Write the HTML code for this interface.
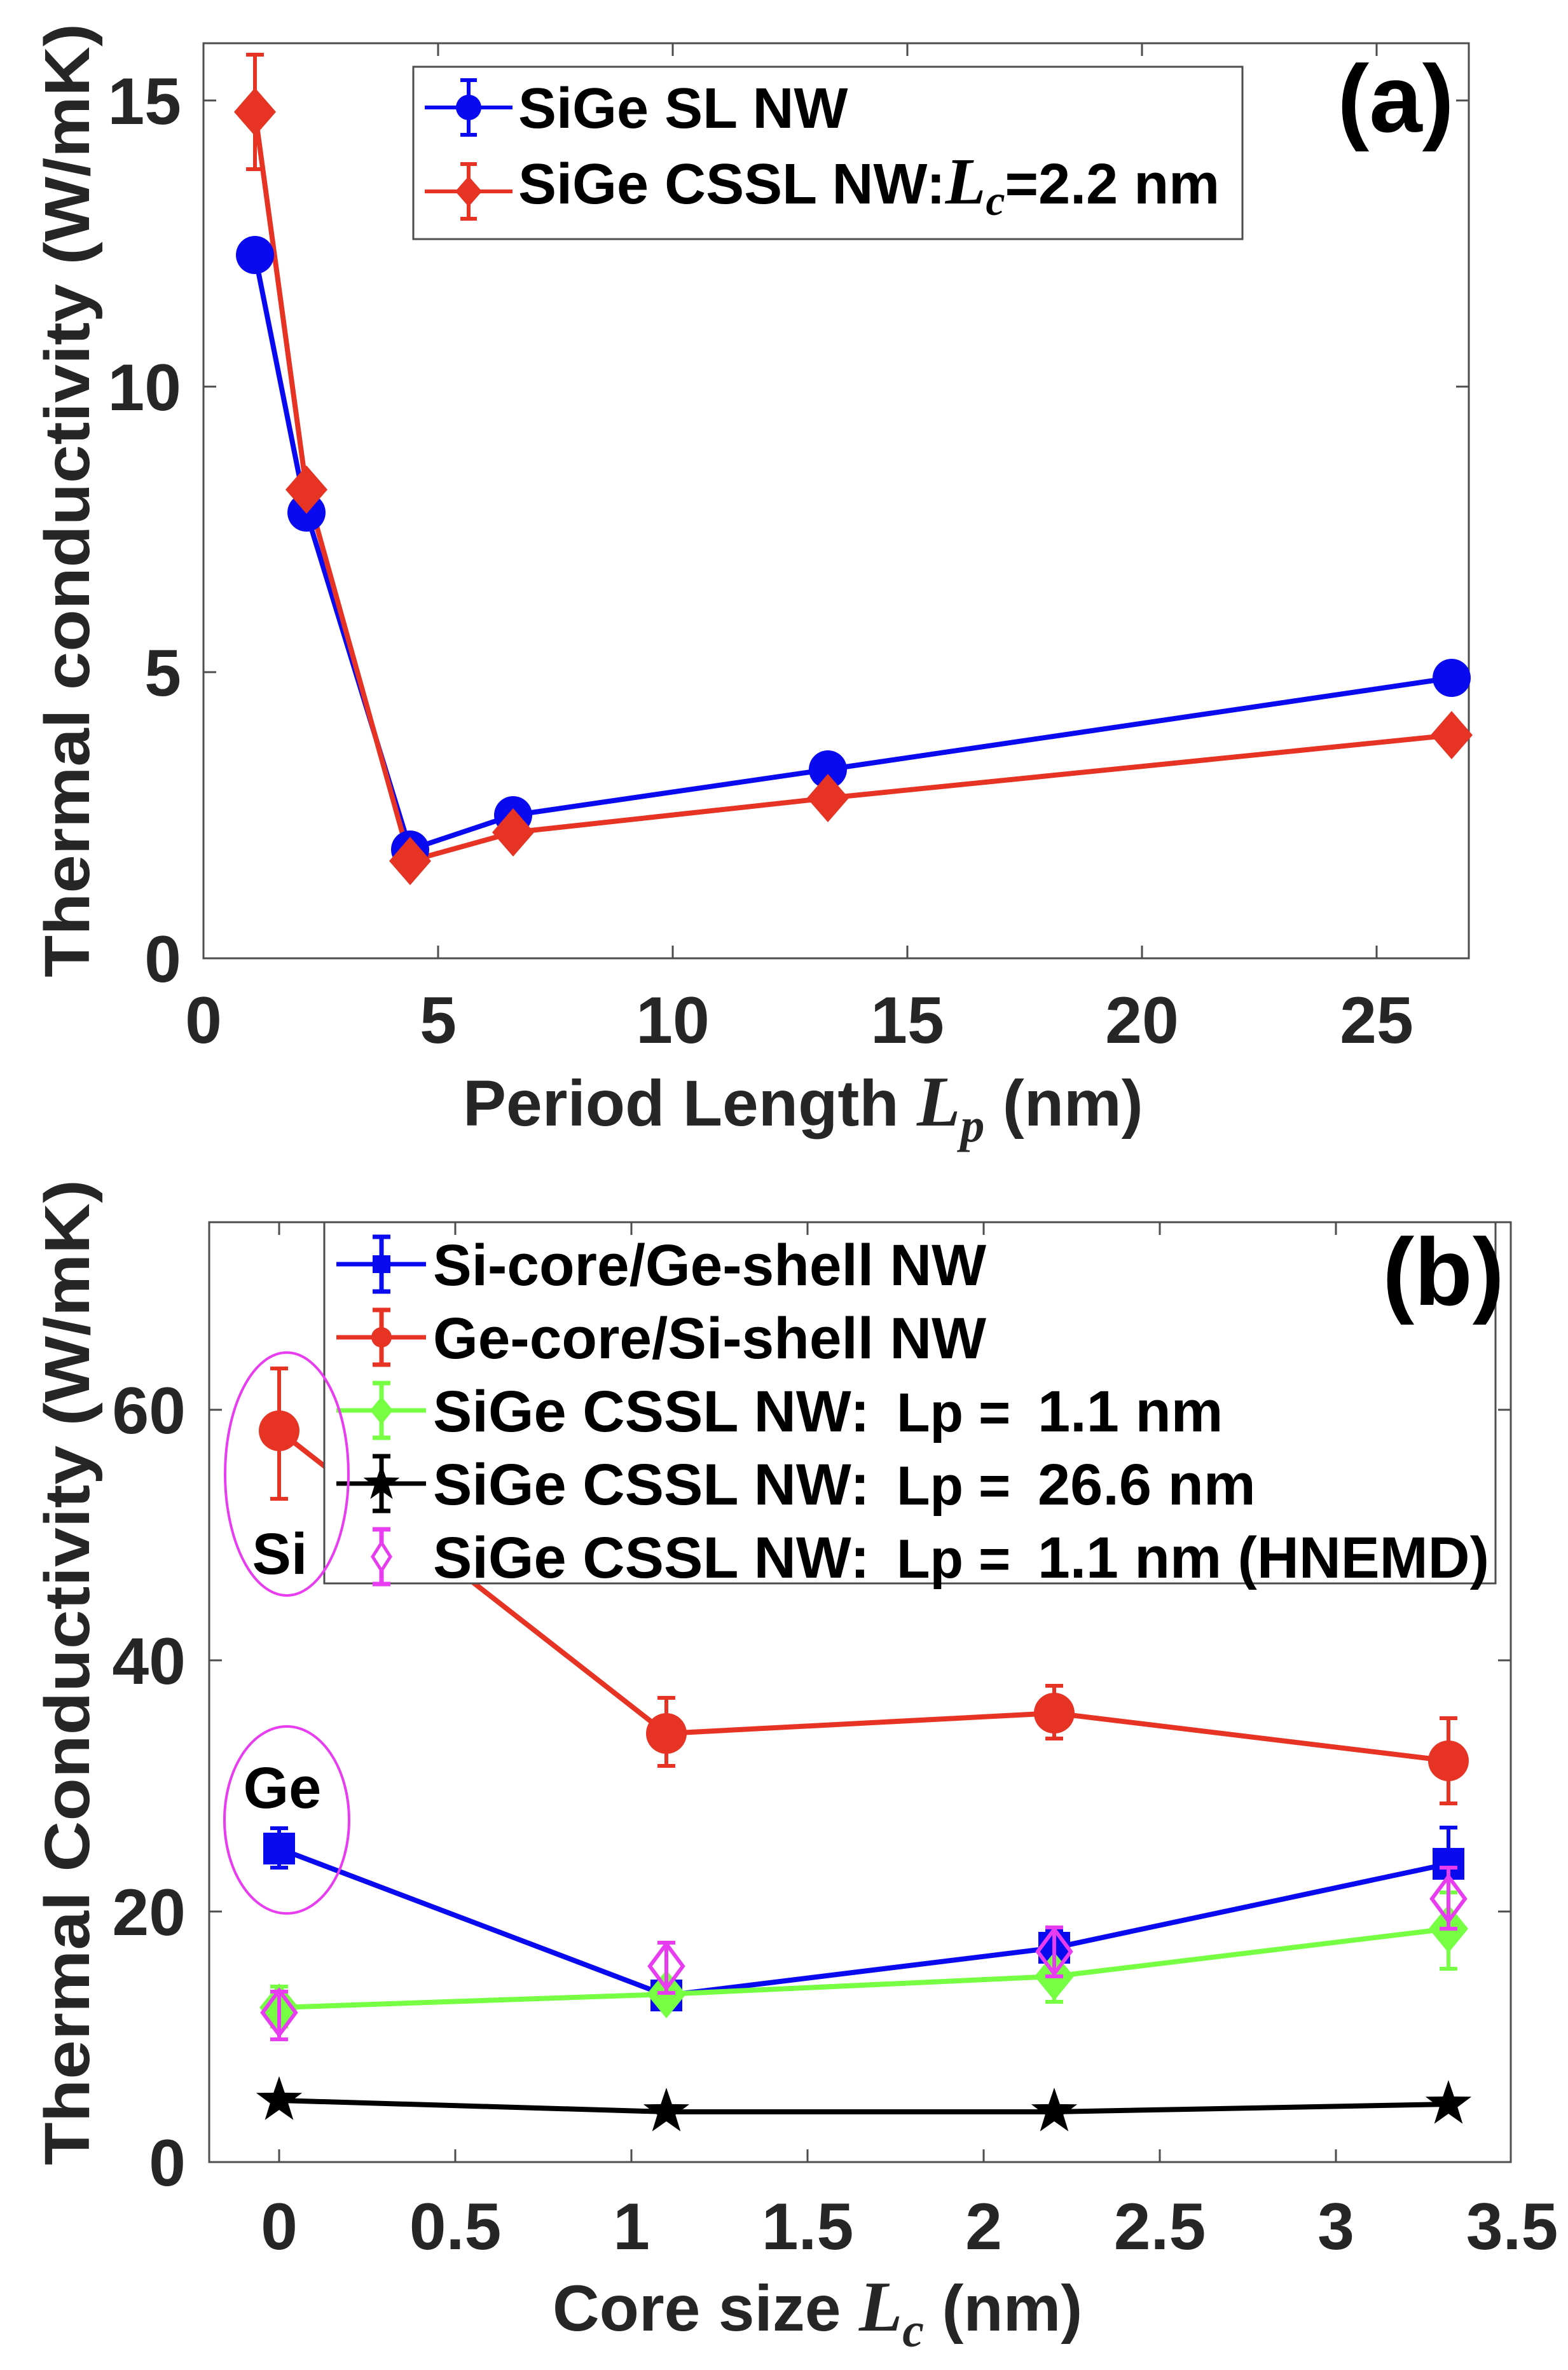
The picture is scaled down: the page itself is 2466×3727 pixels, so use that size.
<!DOCTYPE html>
<html><head><meta charset="utf-8"><style>
html,body{margin:0;padding:0;background:#fff}
svg{display:block}
text{font-family:"Liberation Sans",Arial,sans-serif;font-weight:bold}
</style></head><body>
<svg width="2466" height="3727" viewBox="0 0 2466 3727" xmlns="http://www.w3.org/2000/svg">
<defs>
<polygon id="star" points="0,-38 8.82,-12.14 36.14,-11.74 14.27,4.64 22.34,30.74 0,15 -22.34,30.74 -14.27,4.64 -36.14,-11.74 -8.82,-12.14" fill="#000"/>
<polygon id="stars" points="0,-30 7,-9.6 28.5,-9.3 11.3,3.7 17.6,24.3 0,11.8 -17.6,24.3 -11.3,3.7 -28.5,-9.3 -7,-9.6" fill="#000"/>
</defs>

<!-- ================= Panel (a) ================= -->
<rect x="320" y="68" width="1990" height="1439" fill="none" stroke="#4d4d4d" stroke-width="3"/>
<g stroke="#4d4d4d" stroke-width="3">
<line x1="689" y1="1507" x2="689" y2="1487"/><line x1="1058" y1="1507" x2="1058" y2="1487"/><line x1="1427" y1="1507" x2="1427" y2="1487"/><line x1="1796" y1="1507" x2="1796" y2="1487"/><line x1="2165" y1="1507" x2="2165" y2="1487"/>
<line x1="689" y1="68" x2="689" y2="88"/><line x1="1058" y1="68" x2="1058" y2="88"/><line x1="1427" y1="68" x2="1427" y2="88"/><line x1="1796" y1="68" x2="1796" y2="88"/><line x1="2165" y1="68" x2="2165" y2="88"/>
<line x1="320" y1="1057" x2="340" y2="1057"/><line x1="320" y1="608" x2="340" y2="608"/><line x1="320" y1="158" x2="340" y2="158"/>
<line x1="2310" y1="1057" x2="2290" y2="1057"/><line x1="2310" y1="608" x2="2290" y2="608"/><line x1="2310" y1="158" x2="2290" y2="158"/>
</g>
<g font-size="104" fill="#262626" text-anchor="end">
<text x="285" y="1544">0</text><text x="285" y="1094">5</text><text x="285" y="645">10</text><text x="285" y="195">15</text>
</g>
<g font-size="104" fill="#262626" text-anchor="middle">
<text x="320" y="1640">0</text><text x="689" y="1640">5</text><text x="1058" y="1640">10</text><text x="1427" y="1640">15</text><text x="1796" y="1640">20</text><text x="2165" y="1640">25</text>
</g>
<text transform="translate(140,787) rotate(-90)" font-size="100" fill="#262626" text-anchor="middle" textLength="1500" lengthAdjust="spacingAndGlyphs">Thermal conductivity (W/mK)</text>
<text x="728" y="1770" font-size="102" fill="#262626">Period Length <tspan font-family="Liberation Serif,serif" font-style="italic" font-size="112">L</tspan><tspan font-family="Liberation Serif,serif" font-style="italic" font-size="76" dy="25">p</tspan><tspan dy="-25"> (nm)</tspan></text>

<!-- series a -->
<polyline points="401,401 482,806 645,1336 807,1282 1302,1210 2283,1066" fill="none" stroke="#0a0af0" stroke-width="8"/>
<polyline points="401,176 482,770 645,1354 807,1309 1302,1255 2283,1156" fill="none" stroke="#e63324" stroke-width="8"/>
<g stroke="#e63324" stroke-width="6"><line x1="401" y1="86" x2="401" y2="266"/><line x1="387" y1="86" x2="415" y2="86"/><line x1="387" y1="266" x2="415" y2="266"/></g>
<g fill="#0a0af0">
<circle cx="401" cy="401" r="30"/><circle cx="482" cy="806" r="30"/><circle cx="645" cy="1336" r="30"/><circle cx="807" cy="1282" r="30"/><circle cx="1302" cy="1210" r="30"/><circle cx="2283" cy="1066" r="30"/>
</g>
<g fill="#e63324">
<polygon points="401,138 434,176 401,214 368,176"/>
<polygon points="482,732 515,770 482,808 449,770"/>
<polygon points="645,1316 678,1354 645,1392 612,1354"/>
<polygon points="807,1271 840,1309 807,1347 774,1309"/>
<polygon points="1302,1217 1335,1255 1302,1293 1269,1255"/>
<polygon points="2283,1118 2316,1156 2283,1194 2250,1156"/>
</g>
<!-- legend a -->
<rect x="650" y="105" width="1304" height="271" fill="#fff" stroke="#4d4d4d" stroke-width="3"/>
<g stroke="#0a0af0" stroke-width="6"><line x1="668" y1="169" x2="806" y2="169"/><line x1="737" y1="126" x2="737" y2="212"/><line x1="724" y1="126" x2="750" y2="126"/><line x1="724" y1="212" x2="750" y2="212"/></g>
<circle cx="737" cy="169" r="20" fill="#0a0af0"/>
<g stroke="#e63324" stroke-width="6"><line x1="668" y1="301" x2="806" y2="301"/><line x1="737" y1="258" x2="737" y2="344"/><line x1="724" y1="258" x2="750" y2="258"/><line x1="724" y1="344" x2="750" y2="344"/></g>
<polygon points="737,277 758,301 737,325 716,301" fill="#e63324"/>
<text x="815" y="201" font-size="90" fill="#000">SiGe SL NW</text>
<text x="815" y="320" font-size="90" fill="#000">SiGe CSSL NW:<tspan font-family="Liberation Serif,serif" font-style="italic" font-size="104">L</tspan><tspan font-family="Liberation Serif,serif" font-style="italic" font-size="68" dy="18">c</tspan><tspan dy="-18">=2.2 nm</tspan></text>
<text x="2195" y="207" font-family="Liberation Serif,serif" font-weight="bold" font-size="150" fill="#000" text-anchor="middle">(a)</text>

<!-- ================= Panel (b) ================= -->
<polyline points="439,2250 1048,2726 1658,2694 2278,2769" fill="none" stroke="#e63324" stroke-width="8"/>
<polyline points="439,2907 1048,3138 1658,3063 2278,2931" fill="none" stroke="#0a0af0" stroke-width="8"/>
<polyline points="439,3157 1048,3136 1658,3108 2278,3033" fill="none" stroke="#77ff44" stroke-width="8"/>
<polyline points="439,3303 1048,3321 1658,3321 2278,3309" fill="none" stroke="#000" stroke-width="8"/>
<g stroke="#e63324" stroke-width="6">
<path d="M439,2152V2357M425,2152H453M425,2357H453"/>
<path d="M1048,2670V2777M1034,2670H1062M1034,2777H1062"/>
<path d="M1658,2651V2734M1644,2651H1672M1644,2734H1672"/>
<path d="M2278,2702V2836M2264,2702H2292M2264,2836H2292"/>
</g>
<g stroke="#0a0af0" stroke-width="6">
<path d="M439,2875V2937M425,2875H453M425,2937H453"/>
<path d="M1048,3120V3156M1034,3120H1062M1034,3156H1062"/>
<path d="M1658,3035V3088M1644,3035H1672M1644,3088H1672"/>
<path d="M2278,2874V2976M2264,2874H2292M2264,2976H2292"/>
</g>
<g stroke="#77ff44" stroke-width="6">
<path d="M439,3124V3187M425,3124H453M425,3187H453"/>
<path d="M1048,3112V3159M1034,3112H1062M1034,3159H1062"/>
<path d="M1658,3075V3148M1644,3075H1672M1644,3148H1672"/>
<path d="M2278,2976V3096M2264,2976H2292M2264,3096H2292"/>
</g>
<g fill="#e63324"><circle cx="439" cy="2250" r="32"/><circle cx="1048" cy="2726" r="32"/><circle cx="1658" cy="2694" r="32"/><circle cx="2278" cy="2769" r="32"/></g>
<g fill="#0a0af0"><rect x="414" y="2882" width="50" height="50"/><rect x="1023" y="3113" width="50" height="50"/><rect x="1633" y="3038" width="50" height="50"/><rect x="2253" y="2906" width="50" height="50"/></g>
<g fill="#77ff44">
<polygon points="439,3119 470,3157 439,3195 408,3157"/>
<polygon points="1048,3098 1079,3136 1048,3174 1017,3136"/>
<polygon points="1658,3070 1689,3108 1658,3146 1627,3108"/>
<polygon points="2278,2995 2309,3033 2278,3071 2247,3033"/>
</g>
<use href="#star" x="439" y="3303"/><use href="#star" x="1048" y="3321"/><use href="#star" x="1658" y="3321"/><use href="#star" x="2278" y="3309"/>
<g stroke="#e83cf0" stroke-width="6" fill="none">
<path d="M439,3132V3207M425,3132H453M425,3207H453"/>
<path d="M1048,3055V3134M1034,3055H1062M1034,3134H1062"/>
<path d="M1658,3031V3108M1644,3031H1672M1644,3108H1672"/>
<path d="M2278,2937V3033M2264,2937H2292M2264,3033H2292"/>
<polygon points="439,3130 465,3165 439,3200 413,3165"/>
<polygon points="1048,3057 1074,3092 1048,3127 1022,3092"/>
<polygon points="1658,3034 1684,3069 1658,3104 1632,3069"/>
<polygon points="2278,2951 2304,2986 2278,3021 2252,2986"/>
</g>
<!-- legend b -->
<rect x="510" y="1922" width="1842" height="568" fill="#fff" stroke="#4d4d4d" stroke-width="3"/>
<g stroke-width="7">
<path d="M529,1988H670M600,1945V2031M586,1945H614M586,2031H614" stroke="#0a0af0"/>
<path d="M529,2103H670M600,2060V2146M586,2060H614M586,2146H614" stroke="#e63324"/>
<path d="M529,2218H670M600,2175V2261M586,2175H614M586,2261H614" stroke="#77ff44"/>
<path d="M529,2333H670M600,2290V2376M586,2290H614M586,2376H614" stroke="#000"/>
<path d="M600,2405V2491M586,2405H614M586,2491H614" stroke="#e83cf0"/>
</g>
<rect x="586" y="1974" width="28" height="28" fill="#0a0af0"/>
<circle cx="600" cy="2103" r="16" fill="#e63324"/>
<polygon points="600,2196 618,2218 600,2240 582,2218" fill="#77ff44"/>
<use href="#stars" x="600" y="2333"/>
<polygon points="600,2426 614,2448 600,2470 586,2448" fill="#fff" stroke="#e83cf0" stroke-width="5"/>
<g font-size="92" fill="#000">
<text x="681" y="2021" textLength="870" lengthAdjust="spacingAndGlyphs">Si-core/Ge-shell NW</text>
<text x="681" y="2136" textLength="870" lengthAdjust="spacingAndGlyphs">Ge-core/Si-shell NW</text>
<text x="681" y="2251">SiGe CSSL NW:</text><text x="1410" y="2251" font-size="86">Lp =</text><text x="1632" y="2251">1.1 nm</text>
<text x="681" y="2366">SiGe CSSL NW:</text><text x="1410" y="2366" font-size="86">Lp =</text><text x="1632" y="2366">26.6 nm</text>
<text x="681" y="2481">SiGe CSSL NW:</text><text x="1410" y="2481" font-size="86">Lp =</text><text x="1632" y="2481" textLength="710" lengthAdjust="spacingAndGlyphs">1.1 nm (HNEMD)</text>
</g>
<text x="2270" y="2052" font-family="Liberation Serif,serif" font-weight="bold" font-size="150" fill="#000" text-anchor="middle">(b)</text>
<ellipse cx="451" cy="2318" rx="97" ry="191" fill="none" stroke="#e83cf0" stroke-width="4"/>
<ellipse cx="451" cy="2862" rx="98" ry="147" fill="none" stroke="#e83cf0" stroke-width="4"/>
<text x="440" y="2475" font-size="92" fill="#000" text-anchor="middle">Si</text>
<text x="444" y="2843" font-size="92" fill="#000" text-anchor="middle">Ge</text>
<rect x="329" y="1922" width="2047" height="1478" fill="none" stroke="#4d4d4d" stroke-width="3"/>
<g stroke="#4d4d4d" stroke-width="3">
<path d="M439,3400v-20M716,3400v-20M993,3400v-20M1270,3400v-20M1547,3400v-20M1824,3400v-20M2101,3400v-20"/>
<path d="M439,1922v20M716,1922v20M993,1922v20M1270,1922v20M1547,1922v20M1824,1922v20M2101,1922v20"/>
<path d="M329,3006h20M329,2611h20M329,2217h20M2376,3006h-20M2376,2611h-20M2376,2217h-20"/>
</g>
<g font-size="104" fill="#262626" text-anchor="end">
<text x="292" y="3437">0</text><text x="292" y="3043">20</text><text x="292" y="2648">40</text><text x="292" y="2254">60</text>
</g>
<g font-size="104" fill="#262626" text-anchor="middle">
<text x="439" y="3537">0</text><text x="716" y="3537">0.5</text><text x="993" y="3537">1</text><text x="1270" y="3537">1.5</text><text x="1547" y="3537">2</text><text x="1824" y="3537">2.5</text><text x="2101" y="3537">3</text><text x="2378" y="3537">3.5</text>
</g>
<text transform="translate(140,2630) rotate(-90)" font-size="100" fill="#262626" text-anchor="middle" textLength="1550" lengthAdjust="spacingAndGlyphs">Thermal Conductivity (W/mK)</text>
<text x="869" y="3665" font-size="102" fill="#262626">Core size <tspan font-family="Liberation Serif,serif" font-style="italic" font-size="112">L</tspan><tspan font-family="Liberation Serif,serif" font-style="italic" font-size="76" dy="25">c</tspan><tspan dy="-25"> (nm)</tspan></text>
</svg>
</body></html>
